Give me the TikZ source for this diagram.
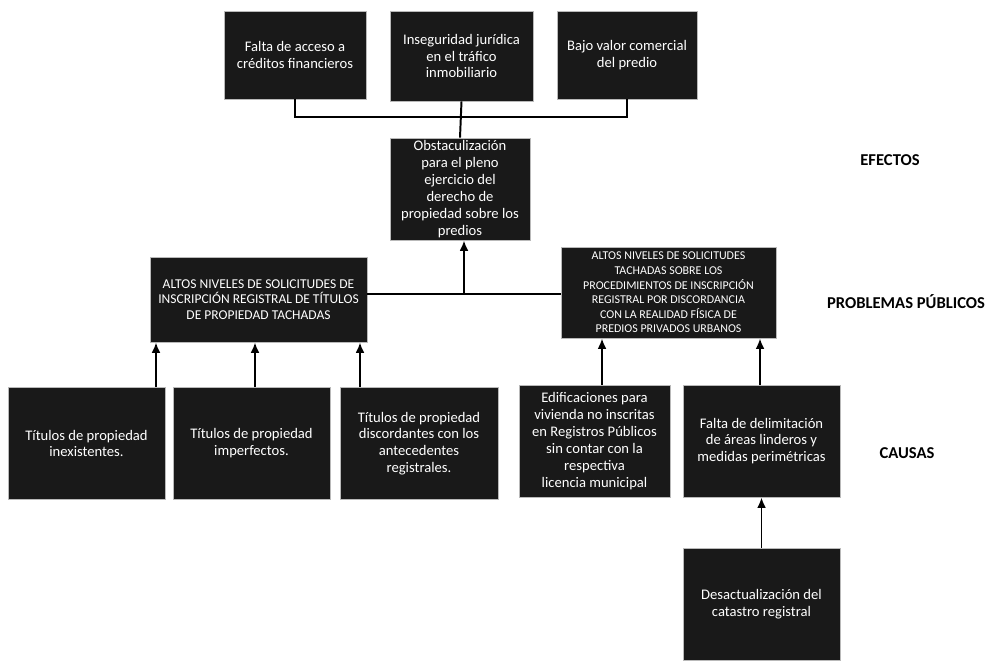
\documentclass[tikz,border=0pt]{standalone}
\usepackage{fontspec}
\setmainfont{Carlito}
\usetikzlibrary{arrows.meta}
\begin{document}
\begin{tikzpicture}[x=0.025cm,y=-0.025cm,
  caja/.style={fill=black!90,draw=gray!55,line width=0.6pt,text=white,align=center,inner sep=0pt,font=\fontsize{10.4}{12}\selectfont},
  cajaM/.style={caja,font=\fontsize{8.5}{10.4}\selectfont},
  linea/.style={line width=1.4pt},
  flecha/.style={linea,-{Latex[length=2.6mm,width=2.2mm]}},
  nivel/.style={font=\fontsize{11.8}{13}\selectfont\bfseries}]
\useasboundingbox (0,0) rectangle (987,662);
% efectos
\foreach \n/\x/\y/\w/\h/\t in {E1/295/55/142/88/{Falta de acceso a\\créditos financieros},
  E2/461.5/56/143/90/{Inseguridad jurídica\\en el tráfico\\inmobiliario},
  E3/627/55/140/88/{Bajo valor comercial\\del predio},
  C/460/189/140/102/{Obstaculización\\para el pleno\\ejercicio del\\derecho de\\propiedad sobre los\\predios}}{
  \node[caja,minimum width=\w*0.025cm,minimum height=\h*0.025cm] (\n) at (\x,\y) {\t};}
% problemas
\node[cajaM,font=\fontsize{9.6}{11}\selectfont,minimum width=217*0.025cm,minimum height=85*0.025cm] (P1) at (258.5,299.5) {ALTOS NIVELES DE SOLICITUDES DE\\INSCRIPCIÓN REGISTRAL DE TÍTULOS\\DE PROPIEDAD TACHADAS};
\node[cajaM,minimum width=215*0.025cm,minimum height=91*0.025cm] (P2) at (668.5,292.5) {ALTOS NIVELES DE SOLICITUDES\\TACHADAS SOBRE LOS\\PROCEDIMIENTOS DE INSCRIPCIÓN\\REGISTRAL POR DISCORDANCIA\\CON LA REALIDAD FÍSICA DE\\PREDIOS PRIVADOS URBANOS};
% causas
\foreach \n/\x/\y/\w/\t in {K1/86.5/443.5/157/{Títulos de propiedad\\inexistentes.},
  K2/251.5/443.5/157/{Títulos de propiedad\\imperfectos.},
  K3/419/443.5/158/{Títulos de propiedad\\discordantes con los\\antecedentes\\registrales.},
  K4/594.5/441/151/{Edificaciones para\\vivienda no inscritas\\en Registros Públicos\\sin contar con la\\respectiva\\licencia municipal},
  K5/761.5/441/157/{Falta de delimitación\\de áreas linderos y\\medidas perimétricas},
  K6/761.5/604/157/{Desactualización del\\catastro registral}}{
  \node[caja,minimum width=\w*0.025cm,minimum height=112*0.025cm] (\n) at (\x,\y) {\t};}
% niveles
\node[nivel] (lE) at (890,160) {EFECTOS};
\node[nivel] (lP) at (906,302) {PROBLEMAS PÚBLICOS};
\node[nivel] (lC) at (907,453) {CAUSAS};
% conectores
\draw[linea] (E1.south) -- ++(0,18) coordinate (b1) -- (b1 -| E3.south) -- (E3.south);
\draw[linea] (E2.south) -- (C.north);
\coordinate (hp) at (464,294);
\draw[linea] (P1.east |- hp) -- (P2.west |- hp);
\draw[flecha] (hp) -- (C.south -| hp);
\foreach \n/\p/\x in {K1/P1/156,K2/P1/255,K3/P1/360,K4/P2/602,K5/P2/760}{
  \draw[flecha] (\n.north -| \x,0) -- (\p.south -| \x,0);}
\draw[flecha] (K6.north) -- (K5.south);
\end{tikzpicture}
\end{document}
